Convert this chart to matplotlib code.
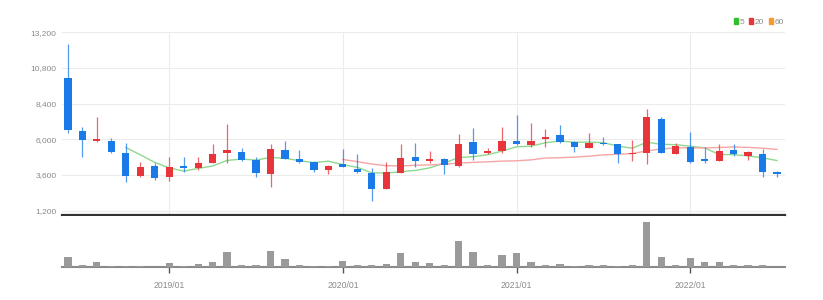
import matplotlib
matplotlib.use("Agg")
import matplotlib.pyplot as plt
from matplotlib.patches import Patch
import numpy as np
import pandas as pd

# monthly candles 2018/06 .. 2022/07
months = pd.period_range("2018-06", periods=50, freq="M")

opens = [10100, 6560, 5870, 5910, 5060, 3530, 4230, 3490, 4230, 4050,
         4430, 5060, 5130, 4610, 3670, 5280, 4700, 4460, 3940, 4320,
         3990, 3720, 2680, 3760, 4790, 4560, 4660, 4210, 5820, 5060,
         5220, 5910, 5620, 6020, 6290, 5800, 5440, 5770, 5670, 5010,
         5060, 7390, 5010, 5510, 4660, 4560, 5280, 4880, 5010, 3820]
closes = [6630, 5960, 6000, 5150, 3530, 4160, 3420, 4160, 4050, 4430,
          4990, 5280, 4610, 3720, 5330, 4700, 4480, 3940, 4210, 4160,
          3800, 2640, 3820, 4730, 4560, 4660, 4250, 5690, 5010, 5220,
          5890, 5690, 5890, 6180, 5800, 5470, 5750, 5690, 5010, 5100,
          7480, 5060, 5550, 4500, 4560, 5240, 5010, 5130, 3820, 3670]
highs = [12400, 6850, 7480, 6110, 5770, 4500, 4390, 4830, 4790, 4830,
         5670, 7010, 5400, 4830, 5670, 5910, 5280, 4540, 4250, 5350,
         5010, 4050, 4500, 5670, 5730, 5240, 4770, 6360, 6740, 5400,
         6850, 7640, 7080, 6680, 6970, 5910, 6410, 6140, 5670, 5960,
         8040, 7480, 5730, 6470, 5510, 5670, 5670, 5240, 5350, 3890]
lows = [6410, 4830, 5800, 5100, 3150, 3490, 3270, 3220, 3820, 3940,
        4390, 4390, 4560, 3490, 2770, 4660, 4390, 3820, 3670, 4160,
        3760, 1850, 2640, 3720, 4120, 4390, 3670, 4120, 4610, 5010,
        5100, 5620, 5470, 5510, 5770, 5170, 5400, 5620, 4430, 4560,
        4340, 5060, 4990, 4390, 4430, 4540, 4880, 4610, 3490, 3490]
# relative volume (no axis shown)
volumes = [10, 2, 5.3, 1, 1, 1, 0, 3.7, 1, 2.7,
           5.3, 15.3, 2.3, 2, 16, 8, 2.3, 1, 1, 6.3,
           2, 2, 3.3, 13.7, 5.3, 4, 1.7, 26, 15, 2.3,
           12.3, 13.7, 5.3, 2.3, 3.3, 1, 2, 2, 1, 2.3,
           44.7, 10, 2.3, 9.3, 4.7, 5.3, 2.3, 2, 2.3, 0]

price_ticks = [1200, 3600, 6000, 8400, 10800, 13200]

UP = "#e8353b"
DOWN = "#1a7be8"
plt.rcParams["font.family"] = ["Liberation Sans", "DejaVu Sans"]

df = pd.DataFrame({"open": opens, "high": highs, "low": lows,
                   "close": closes, "volume": volumes})
df["ma5"] = df["close"].rolling(5).mean()
df["ma20"] = df["close"].rolling(20).mean()
df["ma60"] = df["close"].rolling(60).mean()
x = np.arange(len(df))
up = df["close"] >= df["open"]
colors = np.where(up, UP, DOWN)

fig = plt.figure(figsize=(8.23, 3.0), dpi=100)
ax = fig.add_axes([0.0753, 0.2817, 0.8785, 0.6107])
axv = fig.add_axes([0.0753, 0.11, 0.8785, 0.17], sharex=ax)

# candles
ax.vlines(x, df["low"], df["high"], colors=colors, linewidth=0.9, alpha=0.75, zorder=3)
body_lo = np.minimum(df["open"], df["close"])
body_h = np.maximum(np.abs(df["close"] - df["open"]), 90)
ax.bar(x, body_h, bottom=body_lo, width=0.5, color=colors, zorder=4)

ax.plot(x, df["ma5"], color="#8fd98f", linewidth=1.0, zorder=2)
ax.plot(x, df["ma20"], color="#f5a5a5", linewidth=1.0, zorder=2)
ax.plot(x, df["ma60"], color="#f5a040", linewidth=1.0, zorder=2)

ax.set_ylim(880, 13200)
ax.set_xlim(-0.41, 49.55)
ax.set_yticks(price_ticks)
ax.set_yticklabels([f"{v:,}" for v in price_ticks])
year_idx = [i for i, m in enumerate(months) if m.month == 1]
ax.set_xticks(year_idx)
ax.tick_params(axis="y", length=0, pad=4, labelsize=6.0, labelcolor="#8a8a8a")
ax.tick_params(axis="x", length=0, labelbottom=False)
ax.grid(True, color="#ececec", linewidth=0.8)
ax.set_axisbelow(True)
for s in ["top", "right", "left"]:
    ax.spines[s].set_visible(False)
ax.spines["bottom"].set_color("#333333")
ax.spines["bottom"].set_linewidth(1.6)

# volume
axv.bar(x, df["volume"], width=0.5, color="#9a9a9a", zorder=3)
axv.set_ylim(0, 51)
axv.set_yticks([])
axv.set_xticks(year_idx)
axv.set_xticklabels([m.strftime("%Y/%m") for m in months[year_idx]])
axv.tick_params(axis="x", length=4, width=1, color="#555555", pad=6,
                labelsize=6.2, labelcolor="#8a8a8a")
for s in ["top", "right", "left"]:
    axv.spines[s].set_visible(False)
axv.spines["bottom"].set_color("#8a8a8a")
axv.spines["bottom"].set_linewidth(1.5)

handles = [Patch(color="#2fbf2f", label="5"),
           Patch(color="#e8353b", label="20"),
           Patch(color="#f59a30", label="60")]
fig.legend(handles=handles, loc="upper right", bbox_to_anchor=(0.962, 0.965),
           ncol=3, frameon=False, fontsize=6, handlelength=0.5, handleheight=0.8,
           handletextpad=0.25, columnspacing=0.5, labelcolor="#8a8a8a")

fig.savefig("out.png", dpi=100)
